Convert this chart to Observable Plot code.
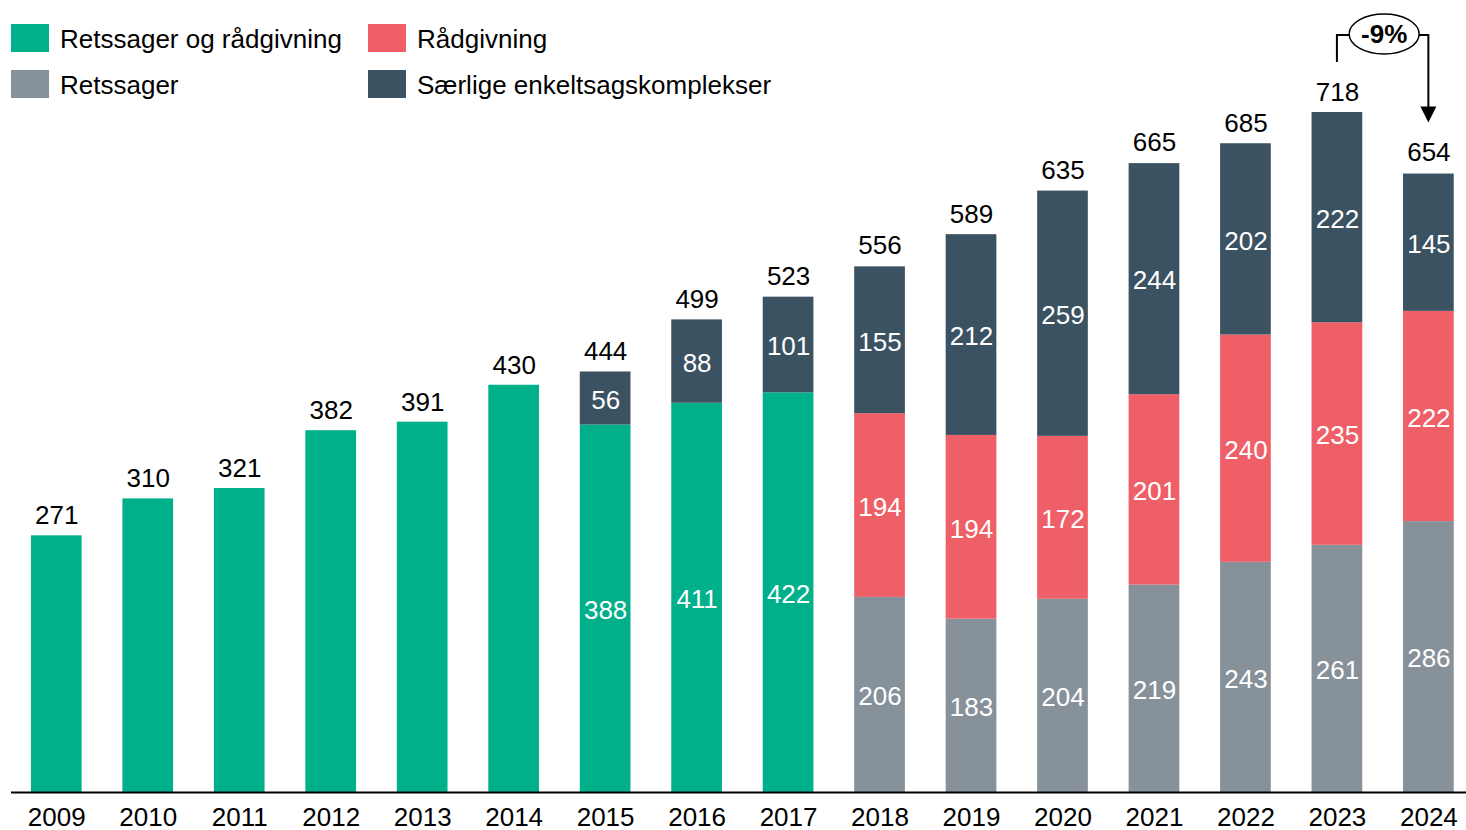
<!DOCTYPE html>
<html>
<head>
<meta charset="utf-8">
<script src="https://cdn.jsdelivr.net/npm/d3@7"></script>
<script src="https://cdn.jsdelivr.net/npm/@observablehq/plot@0.6"></script>
<style>
  body { margin: 0; background: #fff; font-family: "Liberation Sans", Arial, sans-serif; }
  #wrap { position: relative; width: 1466px; height: 830px; }
  .leg { position: absolute; display: flex; align-items: center; font-size: 26px; color: #000; white-space: nowrap; }
  .sw { width: 38px; height: 28px; margin-right: 11px; }
  #chart { position: absolute; left: 0; top: 0; }
</style>
</head>
<body>
<div id="wrap">
  <div id="chart"></div>
  <div id="legend"></div>
</div>
<script>
const years = ["2009","2010","2011","2012","2013","2014","2015","2016","2017","2018","2019","2020","2021","2022","2023","2024"];
const seriesNames = ["Retssager og rådgivning", "Retssager", "Rådgivning", "Særlige enkeltsagskomplekser"];
const seriesColors = ["#00B08A", "#87919A", "#EF5F67", "#3B5262"];
const retssagerOgRaadgivning = [271, 310, 321, 382, 391, 430, 388, 411, 422, null, null, null, null, null, null, null];
const retssager = [null, null, null, null, null, null, null, null, null, 206, 183, 204, 219, 243, 261, 286];
const raadgivning = [null, null, null, null, null, null, null, null, null, 194, 194, 172, 201, 240, 235, 222];
const saerlige = [null, null, null, null, null, null, 56, 88, 101, 155, 212, 259, 244, 202, 222, 145];
const totals = [271, 310, 321, 382, 391, 430, 444, 499, 523, 556, 589, 635, 665, 685, 718, 654];
const showInnerFrom = "2015";
const changeLabel = "-9%";
const changeFrom = "2023", changeTo = "2024";

const seriesValues = [retssagerOgRaadgivning, retssager, raadgivning, saerlige];
const rows = [];
years.forEach((yr, i) => {
  seriesValues.forEach((vals, s) => {
    if (vals[i] != null) rows.push({year: yr, series: seriesNames[s], value: vals[i]});
  });
});
const totalRows = years.map((yr, i) => ({year: yr, total: totals[i]}));
const innerRows = rows.filter(d => +d.year >= +showInnerFrom);

// Legend
const legend = document.getElementById("legend");
const legPos = [[11, 24], [11, 70], [368, 24], [368, 70]];
const legOrder = [0, 1, 2, 3];
legOrder.forEach((s, k) => {
  const el = document.createElement("div");
  el.className = "leg";
  el.style.left = legPos[k][0] + "px";
  el.style.top = (legPos[k][1] - 2) + "px";
  el.style.height = "32px";
  el.innerHTML = `<div class="sw" style="background:${seriesColors[s]}"></div><span style="position:relative;top:1px">${seriesNames[s]}</span>`;
  legend.appendChild(el);
});

const chart = Plot.plot({
  width: 1466,
  height: 830,
  marginLeft: 11,
  marginRight: 0,
  marginTop: 72.2,
  marginBottom: 38,
  style: {fontFamily: "'Liberation Sans', Arial, sans-serif", fontSize: "26px", background: "transparent", overflow: "visible"},
  x: {domain: years, paddingInner: 0.4457, paddingOuter: 0.176, align: 0.619, round: false, label: null},
  y: {domain: [0, 760], axis: null},
  color: {domain: seriesNames, range: seriesColors},
  marks: [
    Plot.barY(rows, Plot.stackY({x: "year", y: "value", fill: "series", z: "series", order: seriesNames})),
    Plot.text(innerRows, Plot.stackY({x: "year", y: "value", z: "series", order: seriesNames, text: d => String(d.value), fill: "white", fontSize: 26, dy: 2})),
    Plot.text(totalRows, {x: "year", y: "total", text: d => String(d.total), dy: -20, fill: "#000", fontSize: 26}),
    Plot.ruleY([0], {stroke: "#000", strokeWidth: 2}),
    Plot.axisX({tickSize: 0, tickPadding: 15, fontSize: 26, color: "#000", label: null})
  ]
});
document.getElementById("chart").appendChild(chart);

// Annotation bracket with -9%
const xs = chart.scale("x"), ys = chart.scale("y");
const bw = xs.bandwidth;
const xa = xs.apply(changeFrom) + bw / 2;
const xb = xs.apply(changeTo) + bw / 2;
const ia = years.indexOf(changeFrom), ib = years.indexOf(changeTo);
const ya = ys.apply(totals[ia]);
const yb = ys.apply(totals[ib]);
const yTop = ya - 77;
const yStart = ya - 50;
const yTip = yb - 50;
const svg = d3.select(chart);
const g = svg.append("g");
g.append("path")
  .attr("d", `M${xa},${yStart}V${yTop}H${xb}V${yTip - 15}`)
  .attr("fill", "none").attr("stroke", "#000").attr("stroke-width", 2);
g.append("path")
  .attr("d", `M${xb - 8},${yTip - 16}L${xb + 8},${yTip - 16}L${xb},${yTip}Z`)
  .attr("fill", "#000");
const cx = (xa + xb) / 2 + 1.5;
g.append("ellipse").attr("cx", cx).attr("cy", yTop - 1).attr("rx", 35).attr("ry", 20)
  .attr("fill", "#fff").attr("stroke", "#000").attr("stroke-width", 1.5);
g.append("text").attr("x", cx).attr("y", yTop - 1).attr("dy", "0.35em")
  .attr("text-anchor", "middle").attr("font-weight", "bold").attr("font-size", 26)
  .attr("font-family", "'Liberation Sans', Arial, sans-serif").text(changeLabel);
</script>
</body>
</html>
